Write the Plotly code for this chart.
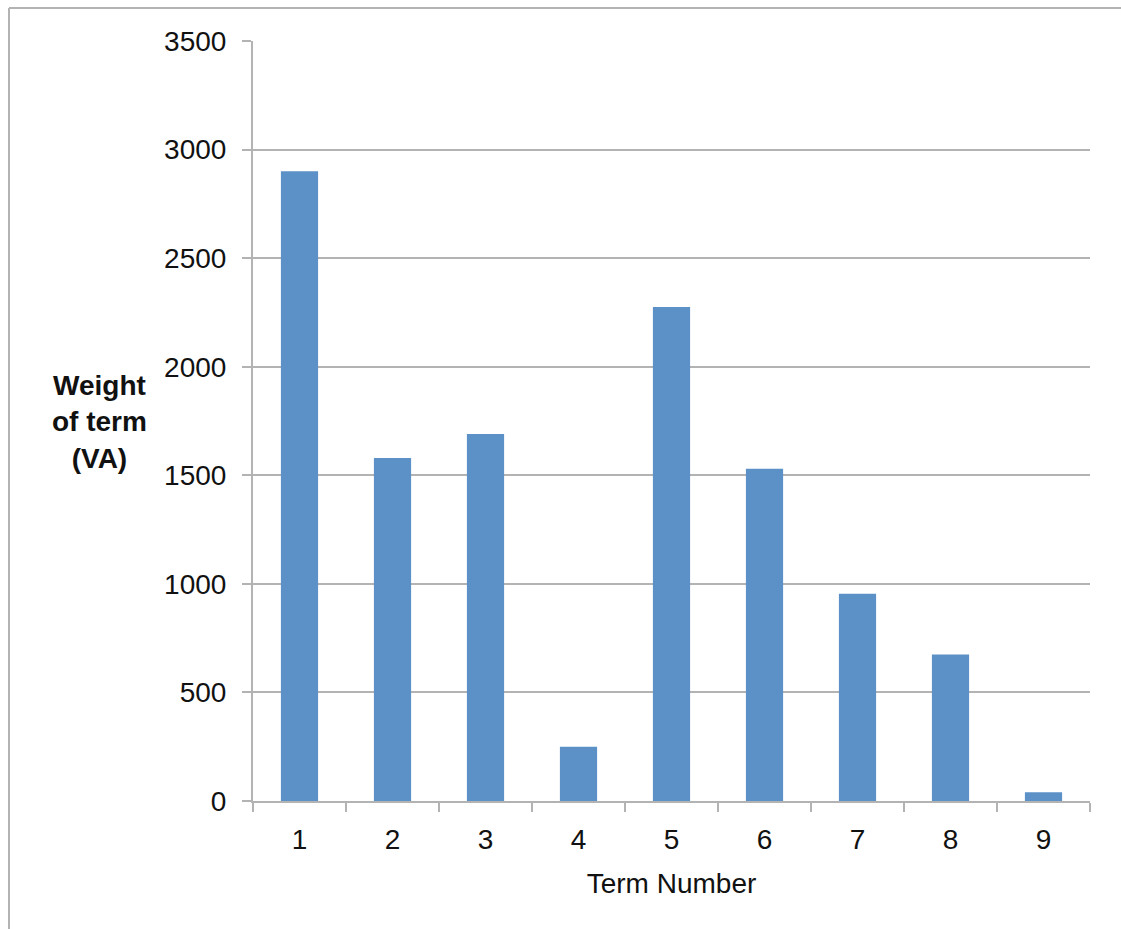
import plotly.graph_objects as go

categories = ["1", "2", "3", "4", "5", "6", "7", "8", "9"]
weights = [2900, 1580, 1690, 250, 2275, 1530, 955, 675, 40]
y_ticks = [0, 500, 1000, 1500, 2000, 2500, 3000, 3500]

W, H = 1121, 929
L, R, T, B = 253, 31, 41, 128
pw, ph = W - L - R, H - T - B

def px_x(x):
    return (x - L) / pw

def px_y(y):
    return (H - B - y) / ph

font = "Liberation Sans, Arial, Helvetica, sans-serif"
grey = "#b3b3b3"
fs = 28

fig = go.Figure(go.Bar(x=categories, y=weights, marker=dict(color="#5b91c6", line=dict(width=0))))

fig.update_layout(
    width=W, height=H,
    margin=dict(l=L, r=R, t=T, b=B),
    paper_bgcolor="white", plot_bgcolor="white",
    bargap=0.6,
    showlegend=False,
    font=dict(family=font, size=fs, color="#111111"),
    xaxis=dict(
        type="category",
        showline=True, linecolor=grey, linewidth=2,
        ticks="outside", tickson="boundaries", ticklen=9, tickcolor=grey, tickwidth=2,
        showgrid=False,
        tickfont=dict(size=fs, family=font, color="#111111"),
        ticklabelstandoff=12,
        title=dict(text="Term Number", font=dict(size=fs, family=font, color="#111111"), standoff=20),
    ),
    yaxis=dict(
        range=[0, 3500],
        tickvals=y_ticks,
        showline=True, linecolor=grey, linewidth=2,
        ticks="outside", ticklen=9, tickcolor=grey, tickwidth=2,
        showgrid=True, gridcolor=grey, gridwidth=1.5,
        zeroline=False,
        tickfont=dict(size=fs, family=font, color="#111111"),
        ticklabelstandoff=10,
    ),
    annotations=[
        dict(text="<b>Weight<br>of term<br>(VA)</b>", xref="paper", yref="paper",
             x=px_x(99), y=px_y(422), xanchor="center", yanchor="middle",
             showarrow=False, align="center",
             font=dict(size=fs, family=font, color="#111111")),
    ],
    shapes=[
        dict(type="line", xref="paper", yref="paper", x0=px_x(9), x1=px_x(W + 5),
             y0=px_y(8), y1=px_y(8), line=dict(color=grey, width=2)),
        dict(type="line", xref="paper", yref="paper", x0=px_x(9), x1=px_x(9),
             y0=px_y(8), y1=px_y(H + 5), line=dict(color=grey, width=2)),
    ],
)

fig.write_html("out.html", config={"displayModeBar": False},
               post_script="document.body.style.margin='0';")
